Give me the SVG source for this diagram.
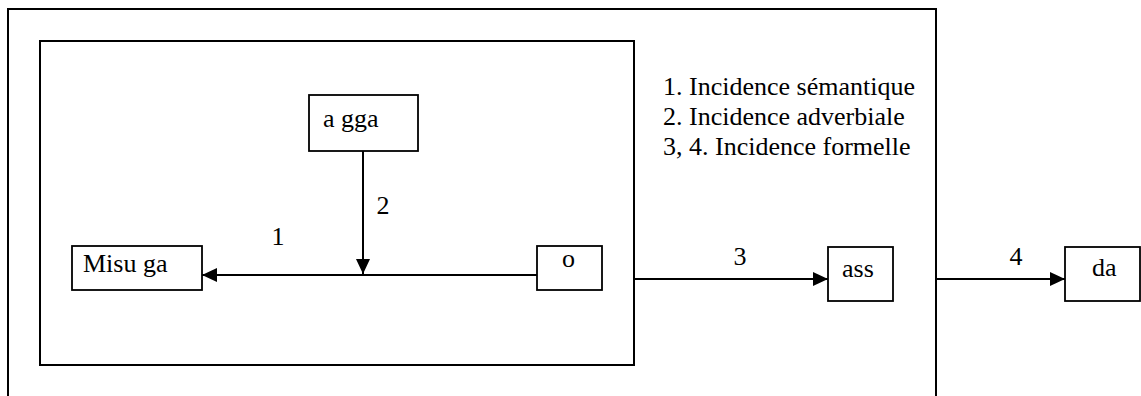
<svg xmlns="http://www.w3.org/2000/svg" width="1141" height="396" viewBox="0 0 1141 396">
<defs>
<style>
.frame{fill:none;stroke:#000;stroke-width:2}
.box{fill:#fff;stroke:#000;stroke-width:1.8}
.edge{stroke:#000;stroke-width:2;fill:none}
text{font-family:'Liberation Serif','DejaVu Serif',serif;font-size:26px;fill:#000}
</style>
<marker id="ah" viewBox="0 0 15 14" refX="15" refY="7" markerWidth="15" markerHeight="14" markerUnits="userSpaceOnUse" orient="auto">
<path d="M0,0 L15,7 L0,14 Z" fill="#000"/>
</marker>
</defs>
<rect width="1141" height="396" fill="#fff"/>
<g id="outer-frame"><path class="frame" d="M8,400 V9 H936 V400"/></g>
<g id="inner-frame"><rect class="frame" x="40" y="41" width="594" height="324"/></g>
<g id="legend" font-family="Liberation Serif, DejaVu Serif, serif">
<text x="663" y="95">1. Incidence sémantique</text>
<text x="663" y="125">2. Incidence adverbiale</text>
<text x="663" y="155">3, 4. Incidence formelle</text>
</g>
<g id="node-agga"><rect class="box" x="309" y="95" width="109" height="56"/><text x="323" y="127">a gga</text></g>
<g id="node-misuga"><rect class="box" x="72" y="246" width="130" height="44"/><text x="83" y="272">Misu ga</text></g>
<g id="node-o"><rect class="box" x="537" y="246" width="65" height="44"/><text x="562" y="267">o</text></g>
<g id="node-ass"><rect class="box" x="828" y="247" width="65" height="54"/><text x="842" y="277">ass</text></g>
<g id="node-da"><rect class="box" x="1065" y="247" width="75" height="54"/><text x="1092" y="276">da</text></g>
<g id="connectors">
<line class="edge" x1="537" y1="275" x2="202" y2="275" marker-end="url(#ah)"/>
<line class="edge" x1="363" y1="151" x2="363" y2="274" marker-end="url(#ah)"/>
<line class="edge" x1="634" y1="279" x2="828" y2="279" marker-end="url(#ah)"/>
<line class="edge" x1="936" y1="279" x2="1065" y2="279" marker-end="url(#ah)"/>
<text x="278" y="245" text-anchor="middle">1</text>
<text x="383" y="214" text-anchor="middle">2</text>
<text x="740" y="265" text-anchor="middle">3</text>
<text x="1016" y="265" text-anchor="middle">4</text>
</g>
</svg>
